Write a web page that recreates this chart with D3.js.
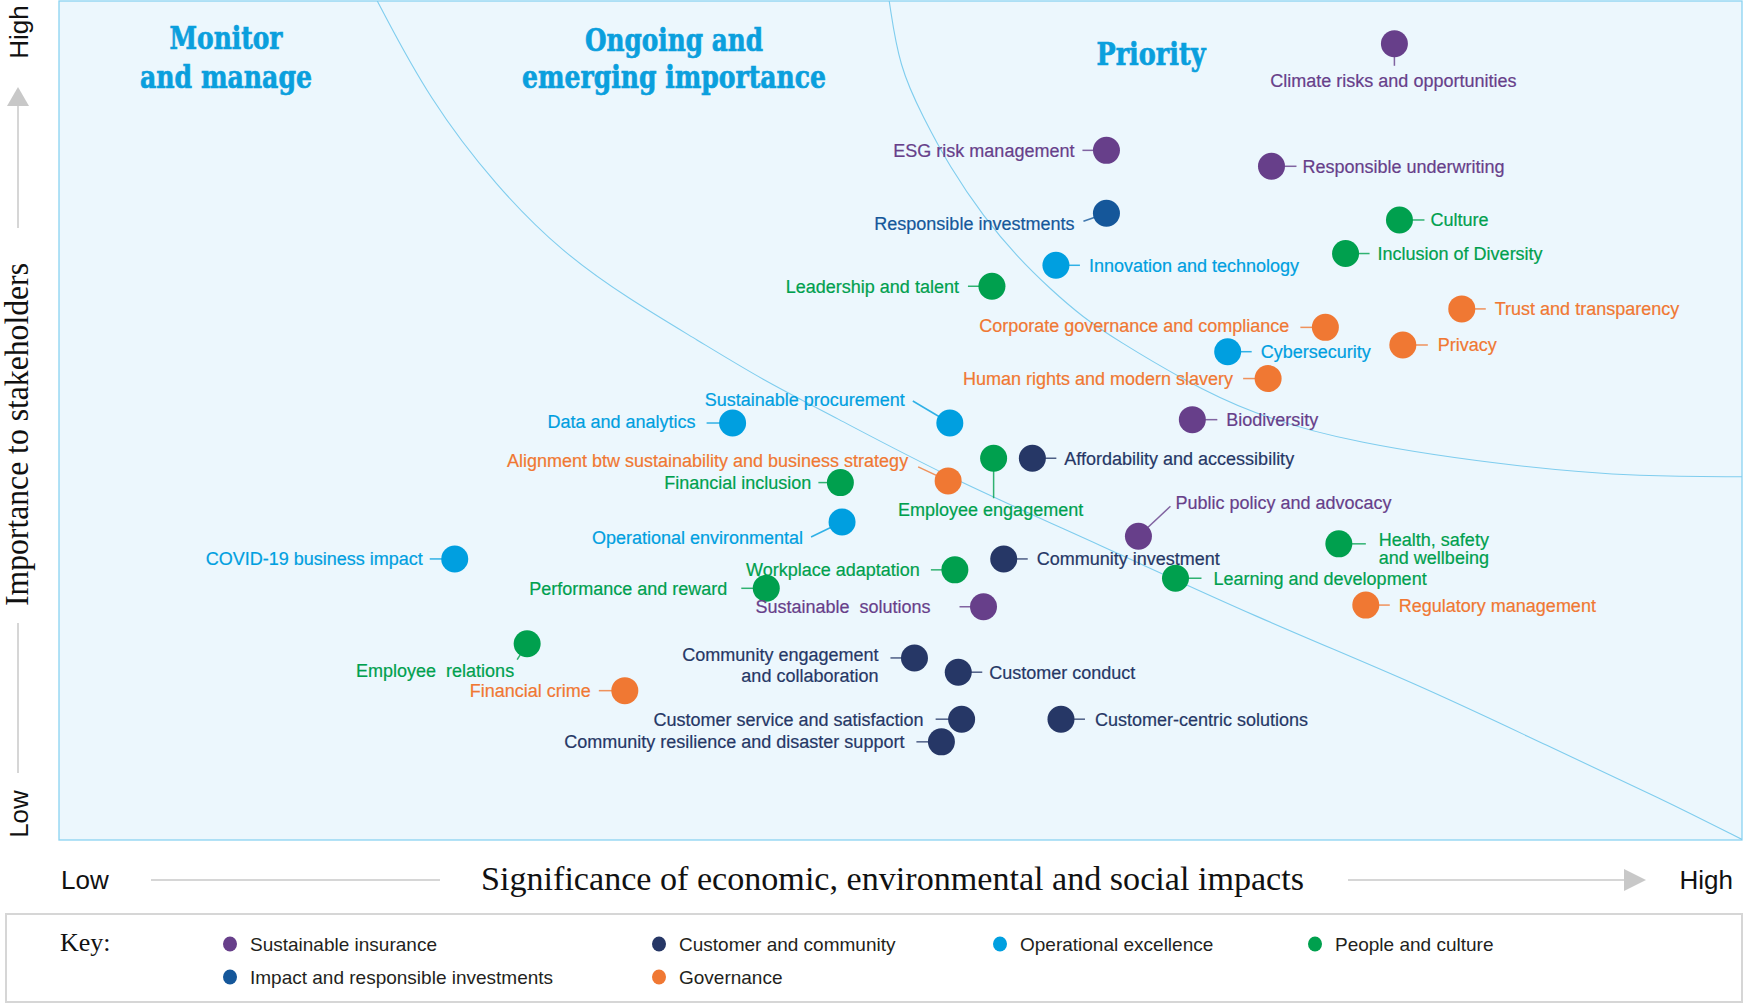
<!DOCTYPE html>
<html>
<head>
<meta charset="utf-8">
<script src="https://cdn.jsdelivr.net/npm/d3@7"></script>
<style>
  html, body { margin: 0; padding: 0; background: #ffffff; }
  svg { display: block; }
  text { white-space: pre; }
</style>
</head>
<body>
<svg id="chart" width="1743" height="1003"></svg>
<script>
// ---------------- DATA ----------------
const categories = [
  "Sustainable insurance",
  "Customer and community",
  "Operational excellence",
  "People and culture",
  "Impact and responsible investments",
  "Governance"
];

const topicNames = [
  "Climate risks and opportunities",
  "ESG risk management",
  "Responsible underwriting",
  "Biodiversity",
  "Public policy and advocacy",
  "Sustainable  solutions",
  "Affordability and accessibility",
  "Community investment",
  "Community engagement and collaboration",
  "Customer conduct",
  "Customer service and satisfaction",
  "Community resilience and disaster support",
  "Customer-centric solutions",
  "Responsible investments",
  "Innovation and technology",
  "Cybersecurity",
  "Data and analytics",
  "Sustainable procurement",
  "Operational environmental",
  "COVID-19 business impact",
  "Culture",
  "Inclusion of Diversity",
  "Leadership and talent",
  "Employee engagement",
  "Financial inclusion",
  "Workplace adaptation",
  "Performance and reward",
  "Health, safety and wellbeing",
  "Learning and development",
  "Employee  relations",
  "Trust and transparency",
  "Corporate governance and compliance",
  "Privacy",
  "Human rights and modern slavery",
  "Alignment btw sustainability and business strategy",
  "Regulatory management",
  "Financial crime"
];

const topicCategory = [
  "Sustainable insurance","Sustainable insurance","Sustainable insurance","Sustainable insurance","Sustainable insurance","Sustainable insurance",
  "Customer and community","Customer and community","Customer and community","Customer and community","Customer and community","Customer and community","Customer and community",
  "Impact and responsible investments",
  "Operational excellence","Operational excellence","Operational excellence","Operational excellence","Operational excellence","Operational excellence",
  "People and culture","People and culture","People and culture","People and culture","People and culture","People and culture","People and culture","People and culture","People and culture","People and culture",
  "Governance","Governance","Governance","Governance","Governance","Governance","Governance"
];

// Significance of economic, environmental and social impacts (0-100)
const impactScores = [
  79.3, 62.2, 72.0, 67.3, 64.1, 54.9,
  57.8, 56.1, 50.8, 53.4, 53.6, 52.4, 59.5,
  62.2,
  59.2, 69.4, 40.0, 52.9, 46.5, 23.5,
  79.6, 76.4, 55.4, 55.5, 46.4, 53.2, 42.0, 76.0, 66.3, 27.8,
  83.3, 75.2, 79.8, 71.8, 52.8, 77.6, 33.6
];

// Importance to stakeholders (0-100)
const stakeholderScores = [
  94.9, 82.2, 80.3, 50.1, 36.2, 27.8,
  45.5, 33.5, 21.7, 20.0, 14.4, 11.7, 14.4,
  74.7,
  68.5, 58.2, 49.7, 49.7, 37.9, 33.5,
  73.9, 69.9, 66.0, 45.5, 42.6, 32.2, 30.0, 35.3, 31.2, 23.4,
  63.3, 61.1, 59.0, 55.0, 42.8, 28.0, 17.8
];

// Zone boundaries (same 0-100 units)
const ongoingBoundaryX = [18.9, 18.9, 22.0, 26.0, 29.9, 33.9, 37.9, 41.8, 45.8, 52.8, 61.8, 71.0, 80.8, 88.5, 95.3, 100, 100];
const ongoingBoundaryY = [100, 100, 88.2, 77.8, 70.0, 64.4, 59.6, 54.8, 50.7, 43.2, 35.2, 26.6, 18.5, 11.1, 4.8, 0, 0];
const priorityBoundaryX = [49.3, 49.3, 49.9, 51.3, 52.9, 54.9, 56.9, 58.9, 60.8, 62.8, 66.8, 70.7, 76.7, 87.2, 94.0, 100, 100];
const priorityBoundaryY = [100, 100, 92.1, 86.2, 80.2, 74.3, 69.5, 65.6, 62.3, 59.6, 54.8, 50.9, 47.3, 44.3, 43.3, 43.3, 43.3];

const zoneTitles = [["Monitor", "and manage"], ["Ongoing and", "emerging importance"], ["Priority"]];
const xAxisTitle = "Significance of economic, environmental and social impacts";
const yAxisTitle = "Importance to stakeholders";
const axisEnds = ["Low", "High"];
const legendTitle = "Key:";
const legendRows = [
  ["Sustainable insurance", "Customer and community", "Operational excellence", "People and culture"],
  ["Impact and responsible investments", "Governance"]
];

// ---------------- STYLE / LAYOUT ----------------
const colorOf = {
  "Sustainable insurance": "#673f8a",
  "Customer and community": "#263766",
  "Operational excellence": "#009fe0",
  "People and culture": "#00a04e",
  "Impact and responsible investments": "#15579a",
  "Governance": "#f07833"
};

const W = 1743, H = 1003;
const plot = { left: 59, right: 1742, top: 1, bottom: 840 };
const x = d3.scaleLinear().domain([0, 100]).range([plot.left, 1743]);
const y = d3.scaleLinear().domain([0, 100]).range([plot.bottom, plot.top]);

const R = (dx = 33, lx = 24, dy = 0) => ({ a: "start", dx, dy, lx, ly: dy });
const L = (dx = -33, lx = -24, dy = 0) => ({ a: "end", dx, dy, lx, ly: dy });
const labelLayout = {
  "Climate risks and opportunities": { a: "middle", dx: -1, dy: 37, lx: 0, ly: 22 },
  "ESG risk management": L(-32, -24),
  "Responsible underwriting": R(31, 25),
  "Biodiversity": R(34, 25),
  "Public policy and advocacy": { a: "start", dx: 37, dy: -34, lx: 32, ly: -30 },
  "Sustainable  solutions": L(-53, -24),
  "Affordability and accessibility": R(32, 24),
  "Community investment": R(33, 24),
  "Community engagement and collaboration": { a: "end", dx: -36, lines: [["Community engagement", -3], ["and collaboration", 18]], lx: -24, ly: 0 },
  "Customer conduct": R(31, 24),
  "Customer service and satisfaction": L(-38, -26),
  "Community resilience and disaster support": L(-37, -25),
  "Customer-centric solutions": R(34, 24),
  "Responsible investments": { a: "end", dx: -32, dy: 10, lx: -23, ly: 8 },
  "Innovation and technology": R(33, 24),
  "Cybersecurity": R(33, 24),
  "Data and analytics": { a: "end", dx: -37, dy: -2, lx: -26, ly: 0 },
  "Sustainable procurement": { a: "end", dx: -45, dy: -24, lx: -37, ly: -22 },
  "Operational environmental": { a: "end", dx: -39, dy: 15, lx: -31, ly: 15 },
  "COVID-19 business impact": L(-32, -25),
  "Culture": R(31, 25),
  "Inclusion of Diversity": R(32, 24),
  "Leadership and talent": L(-33, -24),
  "Employee engagement": { a: "middle", dx: -3, dy: 51, lx: 0, ly: 40 },
  "Financial inclusion": L(-29, -22),
  "Workplace adaptation": L(-35, -24),
  "Performance and reward": L(-39, -25),
  "Health, safety and wellbeing": { a: "start", dx: 40, lines: [["Health, safety", -4], ["and wellbeing", 13.5]], lx: 27, ly: 0 },
  "Learning and development": R(38, 26),
  "Employee  relations": { a: "end", dx: -13, dy: 27, lx: -10, ly: 16 },
  "Trust and transparency": R(33, 24),
  "Corporate governance and compliance": { a: "end", dx: -36, dy: -2, lx: -25, ly: 0 },
  "Privacy": R(35, 25),
  "Human rights and modern slavery": L(-35, -25),
  "Alignment btw sustainability and business strategy": { a: "end", dx: -40, dy: -20, lx: -30, ly: -14 },
  "Regulatory management": R(33, 24),
  "Financial crime": L(-34, -26)
};

const zoneTitleLayout = [
  { cx: 226, lines: [[49, 113], [88, 172]] },
  { cx: 674, lines: [[51, 178], [88, 304]] },
  { cx: 1151, lines: [[65, 109]] }
];

const SANS = "'Liberation Sans', Arial, sans-serif";
const SERIF = "'Liberation Serif', 'Times New Roman', serif";
const SLAB = "'DejaVu Serif', serif";

// ---------------- DRAW ----------------
const svg = d3.select("#chart");
svg.append("rect").attr("width", W).attr("height", H).attr("fill", "#ffffff");

const defs = svg.append("defs");
defs.append("clipPath").attr("id", "plotClip")
  .append("rect").attr("x", plot.left).attr("y", plot.top)
  .attr("width", plot.right - plot.left).attr("height", plot.bottom - plot.top);

// plot background
svg.append("rect")
  .attr("x", plot.left).attr("y", plot.top)
  .attr("width", plot.right - plot.left).attr("height", plot.bottom - plot.top)
  .attr("fill", "#ecf7fd").attr("stroke", "#8ad3f1").attr("stroke-width", 1.3);

// boundaries
const line = d3.line().x(d => x(d[0])).y(d => y(d[1])).curve(d3.curveBasis);
const gB = svg.append("g").attr("clip-path", "url(#plotClip)");
[[ongoingBoundaryX, ongoingBoundaryY], [priorityBoundaryX, priorityBoundaryY]].forEach(([bx, by]) => {
  gB.append("path").datum(bx.map((v, i) => [v, by[i]]))
    .attr("d", line).attr("fill", "none").attr("stroke", "#7fcdee").attr("stroke-width", 1.1);
});

// zone titles
const gZ = svg.append("g");
zoneTitles.forEach((lines, i) => {
  const lay = zoneTitleLayout[i];
  lines.forEach((t, j) => {
    gZ.append("text")
      .attr("x", lay.cx).attr("y", lay.lines[j][0])
      .attr("text-anchor", "middle")
      .attr("textLength", lay.lines[j][1]).attr("lengthAdjust", "spacingAndGlyphs")
      .attr("font-family", SLAB).attr("font-weight", "bold").attr("font-size", 31)
      .attr("fill", "#0a9fdd").attr("stroke", "#0a9fdd").attr("stroke-width", 0.7)
      .text(t);
  });
});

// topics
const topics = topicNames.map((name, i) => ({
  name, cat: topicCategory[i], xv: impactScores[i], yv: stakeholderScores[i]
}));

const gL = svg.append("g");
topics.forEach(d => {
  const lay = labelLayout[d.name];
  const cx = x(d.xv), cy = y(d.yv);
  gL.append("line")
    .attr("x1", cx).attr("y1", cy).attr("x2", cx + lay.lx).attr("y2", cy + lay.ly)
    .attr("stroke", colorOf[d.cat]).attr("stroke-width", 1.5).attr("stroke-opacity", 0.8);
});

const gD = svg.append("g");
gD.selectAll("circle").data(topics).join("circle")
  .attr("cx", d => x(d.xv)).attr("cy", d => y(d.yv)).attr("r", 13.5)
  .attr("fill", d => colorOf[d.cat]);

const gT = svg.append("g");
topics.forEach(d => {
  const lay = labelLayout[d.name];
  const cx = x(d.xv), cy = y(d.yv);
  const lines = lay.lines || [[d.name, lay.dy]];
  lines.forEach(([t, dy]) => {
    gT.append("text")
      .attr("x", cx + lay.dx).attr("y", cy + dy + 6.5)
      .attr("text-anchor", lay.a)
      .attr("font-family", SANS).attr("font-size", 18)
      .attr("fill", colorOf[d.cat]).attr("stroke", colorOf[d.cat]).attr("stroke-width", 0.2)
      .text(t);
  });
});

// y axis
const axisGray = "#c8c8c8";
const gY = svg.append("g");
gY.append("path").attr("d", "M18,87 L29,106 L7,106 Z").attr("fill", axisGray);
gY.append("line").attr("x1", 18).attr("x2", 18).attr("y1", 106).attr("y2", 228).attr("stroke", axisGray).attr("stroke-width", 1.5);
gY.append("line").attr("x1", 18).attr("x2", 18).attr("y1", 623).attr("y2", 773).attr("stroke", axisGray).attr("stroke-width", 1.5);
gY.append("text").attr("transform", "translate(28,32) rotate(-90)").attr("text-anchor", "middle")
  .attr("font-family", SANS).attr("font-size", 26).attr("fill", "#111").text(axisEnds[1]);
gY.append("text").attr("transform", "translate(28,814) rotate(-90)").attr("text-anchor", "middle")
  .attr("font-family", SANS).attr("font-size", 26).attr("fill", "#111").text(axisEnds[0]);
gY.append("text").attr("transform", "translate(28,434.5) rotate(-90)").attr("text-anchor", "middle")
  .attr("textLength", 343).attr("lengthAdjust", "spacingAndGlyphs")
  .attr("font-family", SERIF).attr("font-size", 33).attr("fill", "#111").text(yAxisTitle);

// x axis
const gX = svg.append("g");
gX.append("line").attr("x1", 151).attr("x2", 440).attr("y1", 880).attr("y2", 880).attr("stroke", axisGray).attr("stroke-width", 1.5);
gX.append("line").attr("x1", 1348).attr("x2", 1625).attr("y1", 880).attr("y2", 880).attr("stroke", axisGray).attr("stroke-width", 1.5);
gX.append("path").attr("d", "M1624,869 L1646,880 L1624,891 Z").attr("fill", axisGray);
gX.append("text").attr("x", 61).attr("y", 889).attr("font-family", SANS).attr("font-size", 26).attr("fill", "#111").text(axisEnds[0]);
gX.append("text").attr("x", 1733).attr("y", 889).attr("text-anchor", "end").attr("font-family", SANS).attr("font-size", 26).attr("fill", "#111").text(axisEnds[1]);
gX.append("text").attr("x", 892.5).attr("y", 890).attr("text-anchor", "middle")
  .attr("textLength", 823).attr("lengthAdjust", "spacingAndGlyphs")
  .attr("font-family", SERIF).attr("font-size", 33).attr("fill", "#111").text(xAxisTitle);

// legend
const gLeg = svg.append("g");
gLeg.append("rect").attr("x", 6).attr("y", 914).attr("width", 1736).attr("height", 88)
  .attr("fill", "#ffffff").attr("stroke", "#d6d6d6").attr("stroke-width", 2);
gLeg.append("text").attr("x", 60).attr("y", 951).attr("font-family", SERIF).attr("font-size", 26)
  .attr("fill", "#111").text(legendTitle);
const colX = [230, 659, 1000, 1315];
const rowY = [944, 977];
legendRows.forEach((row, r) => {
  row.forEach((cat, c) => {
    gLeg.append("ellipse").attr("cx", colX[c]).attr("cy", rowY[r]).attr("rx", 7).attr("ry", 7.5).attr("fill", colorOf[cat]);
    gLeg.append("text").attr("x", colX[c] + 20).attr("y", rowY[r] + 6.5)
      .attr("font-family", SANS).attr("font-size", 19).attr("fill", "#231f20").text(cat);
  });
});
</script>
</body>
</html>
